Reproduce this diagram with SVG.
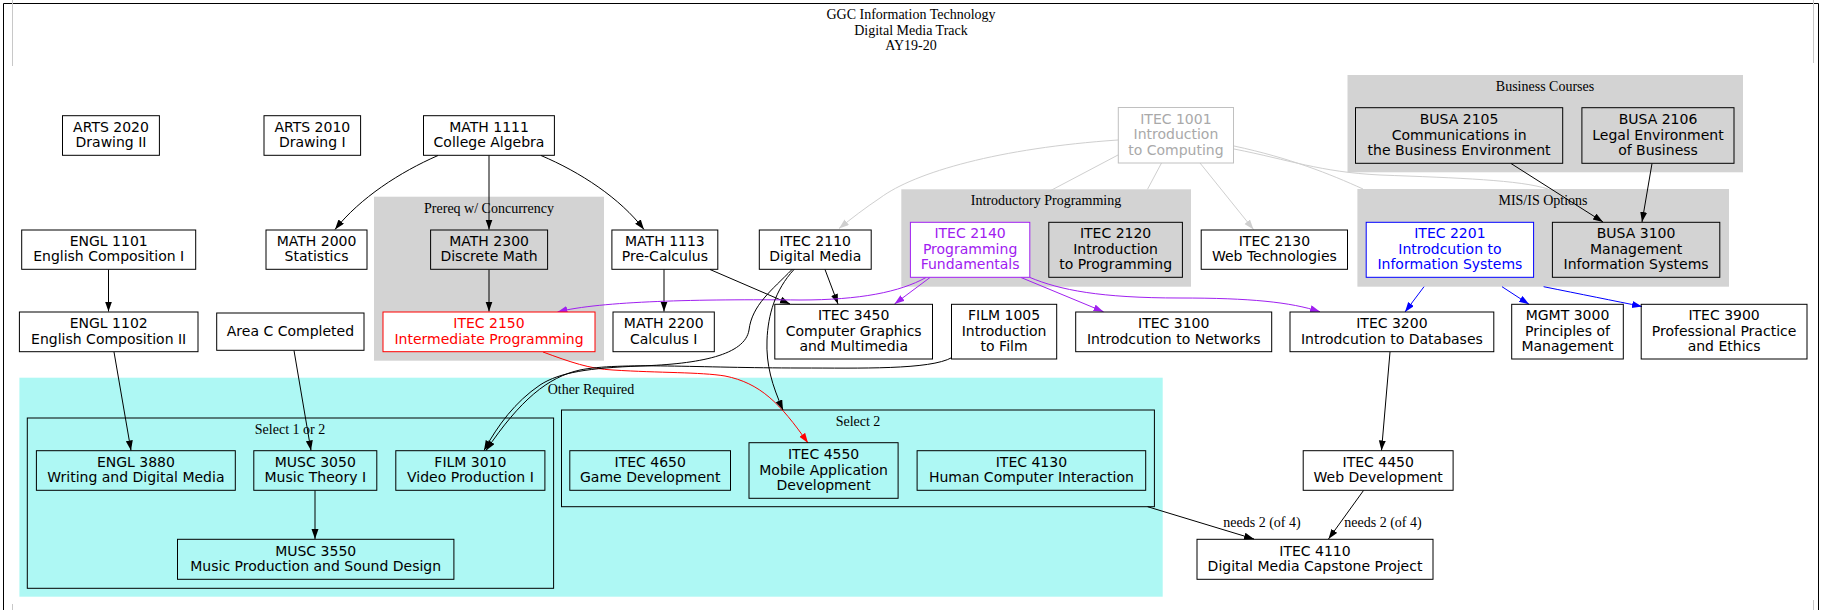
<svg xmlns="http://www.w3.org/2000/svg" width="1825" height="610" viewBox="0 0 1825 610">
<style>
.n rect{fill:none;stroke:#000;stroke-width:1}
.t{font-family:"DejaVu Sans",Verdana,sans-serif;font-size:14px;text-anchor:middle;fill:#000}
.c{font-family:"Liberation Serif","Times New Roman",serif;font-size:14px;text-anchor:middle;fill:#000}
.e path{fill:none;stroke:#000;stroke-width:1}
.e .g{stroke:#cfcfcf}
.e .p{stroke:#a020f0}
.e .b{stroke:#0000ff}
.e .r{stroke:#ff0000}
</style>
<defs>
<marker id="ak" markerUnits="userSpaceOnUse" markerWidth="10" markerHeight="8" refX="10" refY="3.5" orient="auto"><path d="M0,0 L10,3.5 L0,7 z" fill="#000"/></marker>
<marker id="ag" markerUnits="userSpaceOnUse" markerWidth="10" markerHeight="8" refX="10" refY="3.5" orient="auto"><path d="M0,0 L10,3.5 L0,7 z" fill="#cfcfcf"/></marker>
<marker id="ap" markerUnits="userSpaceOnUse" markerWidth="10" markerHeight="8" refX="10" refY="3.5" orient="auto"><path d="M0,0 L10,3.5 L0,7 z" fill="#a020f0"/></marker>
<marker id="ab" markerUnits="userSpaceOnUse" markerWidth="10" markerHeight="8" refX="10" refY="3.5" orient="auto"><path d="M0,0 L10,3.5 L0,7 z" fill="#0000ff"/></marker>
<marker id="ar" markerUnits="userSpaceOnUse" markerWidth="10" markerHeight="8" refX="10" refY="3.5" orient="auto"><path d="M0,0 L10,3.5 L0,7 z" fill="#ff0000"/></marker>
</defs>
<rect x="0" y="0" width="1825" height="610" fill="#fff"/>
<g id="frame" fill="none">
<path d="M3.5,612 L3.5,3.5 L1818.5,3.5 L1818.5,612" stroke="#000"/>
<path d="M12.5,0 L12.5,66 M12.5,604 L12.5,610 M1813.5,0 L1813.5,63 M1813.5,600 L1813.5,610" stroke="#c8c8c8"/>
</g>
<g id="title" class="c">
<text x="911" y="19">GGC Information Technology</text>
<text x="911" y="34.5">Digital Media Track</text>
<text x="911" y="50">AY19-20</text>
</g>
<g id="clusters">
<g id="cl-business"><rect x="1347.5" y="75" width="395.5" height="97.3" fill="#d3d3d3"/><text class="c" x="1545" y="91">Business Courses</text></g>
<g id="cl-prereq"><rect x="374" y="196.7" width="230" height="164" fill="#d3d3d3"/><text class="c" x="489" y="213">Prereq w/ Concurrency</text></g>
<g id="cl-intro"><rect x="901.3" y="189.3" width="289.7" height="97.4" fill="#d3d3d3"/><text class="c" x="1046" y="205.3">Introductory Programming</text></g>
<g id="cl-mis"><rect x="1357.4" y="189" width="371.6" height="97.7" fill="#d3d3d3"/><text class="c" x="1543" y="205">MIS/IS Options</text></g>
<g id="cl-other"><rect x="19.4" y="377.7" width="1143.3" height="219" fill="#aef8f4"/><text class="c" x="591" y="393.7">Other Required</text></g>
<g id="cl-sel12"><rect x="27.3" y="418" width="526.3" height="170.3" fill="none" stroke="#000"/><text class="c" x="290" y="434">Select 1 or 2</text></g>
<g id="cl-sel2"><rect x="561.5" y="410" width="592.9" height="96.7" fill="none" stroke="#000"/><text class="c" x="858" y="426">Select 2</text></g>
</g>
<g id="edges" class="e">
<path class="g" d="M1118,140 C1000,148 915,172 880,198 C865,208 852,218 839,228.5" marker-end="url(#ag)"/>
<path class="g" d="M1118,155 L1039,196.7"/>
<path class="g" d="M1161.5,163 L1147.5,189.3"/>
<path class="g" d="M1200,163 L1253.5,229.5" marker-end="url(#ag)"/>
<path class="g" d="M1234,146 C1290,158 1330,174 1363,189"/>
<path class="g" d="M1234,149 C1290,160 1320,172 1380,175 C1460,178 1520,180 1548,189"/>
<path d="M438,155.5 C400,172 360,198 335,229.5" marker-end="url(#ak)"/>
<path d="M489,155.5 L489,229.5" marker-end="url(#ak)"/>
<path d="M541,155.5 C580,172 620,198 644,229.5" marker-end="url(#ak)"/>
<path d="M108.5,269.5 L108.5,311.5" marker-end="url(#ak)"/>
<path d="M489,269.5 L489,311.5" marker-end="url(#ak)"/>
<path d="M664,269.5 L664,311.5" marker-end="url(#ak)"/>
<path d="M710,269.5 L790,304" marker-end="url(#ak)"/>
<path d="M825,269.5 L838,304" marker-end="url(#ak)"/>
<path d="M1511,163.5 L1603,222" marker-end="url(#ak)"/>
<path d="M1652,163.5 L1642,222" marker-end="url(#ak)"/>
<path class="p" d="M926,277.5 C900,292 860,300 800,300 C700,299 600,301 557.5,312" marker-end="url(#ap)"/>
<path class="p" d="M930,277.5 L894.5,304" marker-end="url(#ap)"/>
<path class="p" d="M1021,277.5 L1103.5,311.7" marker-end="url(#ap)"/>
<path class="p" d="M1030,277.5 C1060,290 1100,298 1180,298 C1250,298 1290,302 1320,311.7" marker-end="url(#ap)"/>
<path class="b" d="M1424,286.7 L1405,312" marker-end="url(#ab)"/>
<path class="b" d="M1502,286.7 L1529,304.3" marker-end="url(#ab)"/>
<path class="b" d="M1543.6,286.7 C1580,294 1615,301 1642,306.5" marker-end="url(#ab)"/>
<path class="r" d="M543,352 C570,362 590,369 613,370 C660,373 700,372 725,376 C760,383 780,403 808,443" marker-end="url(#ar)"/>
<path d="M792,269.5 C772,290 752,305 749,330 C745,355 700,364 640,366 C590,368 560,372 540,385 C515,402 498,425 484,450.5" marker-end="url(#ak)"/>
<path d="M952,357.5 C930,370 860,368 800,368 C700,368 620,362 580,370 C548,377 520,400 486,450.5" marker-end="url(#ak)"/>
<path d="M794,269.5 C775,290 768,315 767,340 C766,365 772,385 783,410" marker-end="url(#ak)"/>
<path d="M114,352 L131,450.5" marker-end="url(#ak)"/>
<path d="M294,350.5 L311,450.5" marker-end="url(#ak)"/>
<path d="M315,490.5 L315,539" marker-end="url(#ak)"/>
<path d="M1390,352 L1381.5,450.5" marker-end="url(#ak)"/>
<path d="M1363.5,490.5 L1328.5,539" marker-end="url(#ak)"/>
<path d="M1147.6,506.7 L1254,539" marker-end="url(#ak)"/>
<text class="c" x="1262" y="527">needs 2 (of 4)</text>
<text class="c" x="1383" y="527">needs 2 (of 4)</text>
</g>
<g id="n-arts2020" class="n"><rect x="62.5" y="115.7" width="96.9" height="39.6"/><text class="t" x="111" y="131.7"><tspan x="111">ARTS 2020</tspan><tspan x="111" dy="15.5">Drawing II</tspan></text></g>
<g id="n-arts2010" class="n"><rect x="264" y="115.7" width="96.6" height="39.6"/><text class="t" x="312.3" y="131.7"><tspan x="312.3">ARTS 2010</tspan><tspan x="312.3" dy="15.5">Drawing I</tspan></text></g>
<g id="n-math1111" class="n"><rect x="423.5" y="115.7" width="130.9" height="39.6"/><text class="t" x="489" y="131.7"><tspan x="489">MATH 1111</tspan><tspan x="489" dy="15.5">College Algebra</tspan></text></g>
<g id="n-itec1001" class="n"><rect x="1118.3" y="107.5" width="115.2" height="55.5" fill="#fff" style="stroke:#c0c0c0;fill:#fff"/><text class="t" x="1175.9" y="123.7" style="fill:#a9a9a9"><tspan x="1175.9">ITEC 1001</tspan><tspan x="1175.9" dy="15.5">Introduction</tspan><tspan x="1175.9" dy="15.5">to Computing</tspan></text></g>
<g id="n-busa2105" class="n"><rect x="1355.5" y="107.7" width="207.2" height="55.6"/><text class="t" x="1459.1" y="124"><tspan x="1459.1">BUSA 2105</tspan><tspan x="1459.1" dy="15.5">Communications in</tspan><tspan x="1459.1" dy="15.5">the Business Environment</tspan></text></g>
<g id="n-busa2106" class="n"><rect x="1581.9" y="107.7" width="152.1" height="55.6"/><text class="t" x="1658" y="124"><tspan x="1658">BUSA 2106</tspan><tspan x="1658" dy="15.5">Legal Environment</tspan><tspan x="1658" dy="15.5">of Business</tspan></text></g>
<g id="n-engl1101" class="n"><rect x="21.7" y="230" width="174" height="39.3"/><text class="t" x="108.7" y="245.9"><tspan x="108.7">ENGL 1101</tspan><tspan x="108.7" dy="15.5">English Composition I</tspan></text></g>
<g id="n-math2000" class="n"><rect x="266" y="230" width="101" height="39.3"/><text class="t" x="316.5" y="245.9"><tspan x="316.5">MATH 2000</tspan><tspan x="316.5" dy="15.5">Statistics</tspan></text></g>
<g id="n-math2300" class="n"><rect x="430.6" y="230" width="117" height="39.3"/><text class="t" x="489.1" y="245.9"><tspan x="489.1">MATH 2300</tspan><tspan x="489.1" dy="15.5">Discrete Math</tspan></text></g>
<g id="n-math1113" class="n"><rect x="611.9" y="230" width="105.9" height="39.3"/><text class="t" x="664.9" y="245.9"><tspan x="664.9">MATH 1113</tspan><tspan x="664.9" dy="15.5">Pre-Calculus</tspan></text></g>
<g id="n-itec2110" class="n"><rect x="759.3" y="230" width="111.9" height="39.3"/><text class="t" x="815.3" y="245.9"><tspan x="815.3">ITEC 2110</tspan><tspan x="815.3" dy="15.5">Digital Media</tspan></text></g>
<g id="n-itec2140" class="n"><rect x="910.4" y="222.3" width="119.4" height="55" style="stroke:#a020f0;fill:#fff"/><text class="t" x="970.1" y="238.3" style="fill:#a020f0"><tspan x="970.1">ITEC 2140</tspan><tspan x="970.1" dy="15.5">Programming</tspan><tspan x="970.1" dy="15.5">Fundamentals</tspan></text></g>
<g id="n-itec2120" class="n"><rect x="1048.8" y="222.3" width="133.6" height="55"/><text class="t" x="1115.6" y="238.3"><tspan x="1115.6">ITEC 2120</tspan><tspan x="1115.6" dy="15.5">Introduction</tspan><tspan x="1115.6" dy="15.5">to Programming</tspan></text></g>
<g id="n-itec2130" class="n"><rect x="1201.2" y="230" width="146.3" height="39.3"/><text class="t" x="1274.4" y="245.9"><tspan x="1274.4">ITEC 2130</tspan><tspan x="1274.4" dy="15.5">Web Technologies</tspan></text></g>
<g id="n-itec2201" class="n"><rect x="1366.2" y="222.3" width="167.4" height="55" style="stroke:#0000ff;fill:#fff"/><text class="t" x="1449.9" y="238.3" style="fill:#0000ff"><tspan x="1449.9">ITEC 2201</tspan><tspan x="1449.9" dy="15.5">Introdcution to</tspan><tspan x="1449.9" dy="15.5">Information Systems</tspan></text></g>
<g id="n-busa3100" class="n"><rect x="1552.4" y="222.3" width="167.4" height="55"/><text class="t" x="1636.1" y="238.3"><tspan x="1636.1">BUSA 3100</tspan><tspan x="1636.1" dy="15.5">Management</tspan><tspan x="1636.1" dy="15.5">Information Systems</tspan></text></g>
<g id="n-engl1102" class="n"><rect x="19.4" y="312" width="178.6" height="39.7"/><text class="t" x="108.7" y="328"><tspan x="108.7">ENGL 1102</tspan><tspan x="108.7" dy="15.5">English Composition II</tspan></text></g>
<g id="n-areac" class="n"><rect x="216.7" y="313" width="147.3" height="37.3"/><text class="t" x="290.4" y="336.2">Area C Completed</text></g>
<g id="n-itec2150" class="n"><rect x="383" y="312" width="212" height="39.7" style="stroke:#ff0000;fill:#fff"/><text class="t" x="489" y="328" style="fill:#ff0000"><tspan x="489">ITEC 2150</tspan><tspan x="489" dy="15.5">Intermediate Programming</tspan></text></g>
<g id="n-math2200" class="n"><rect x="613" y="312" width="101.3" height="39.7"/><text class="t" x="663.7" y="328"><tspan x="663.7">MATH 2200</tspan><tspan x="663.7" dy="15.5">Calculus I</tspan></text></g>
<g id="n-itec3450" class="n"><rect x="774.8" y="304.3" width="157.7" height="54.7"/><text class="t" x="853.7" y="320.2"><tspan x="853.7">ITEC 3450</tspan><tspan x="853.7" dy="15.5">Computer Graphics</tspan><tspan x="853.7" dy="15.5">and Multimedia</tspan></text></g>
<g id="n-film1005" class="n"><rect x="951.5" y="304.3" width="105.2" height="54.7"/><text class="t" x="1004.1" y="320.2"><tspan x="1004.1">FILM 1005</tspan><tspan x="1004.1" dy="15.5">Introduction</tspan><tspan x="1004.1" dy="15.5">to Film</tspan></text></g>
<g id="n-itec3100" class="n"><rect x="1075.7" y="312" width="196" height="39.7"/><text class="t" x="1173.7" y="328"><tspan x="1173.7">ITEC 3100</tspan><tspan x="1173.7" dy="15.5">Introdcution to Networks</tspan></text></g>
<g id="n-itec3200" class="n"><rect x="1290" y="312" width="203.8" height="39.7"/><text class="t" x="1391.9" y="328"><tspan x="1391.9">ITEC 3200</tspan><tspan x="1391.9" dy="15.5">Introdcution to Databases</tspan></text></g>
<g id="n-mgmt3000" class="n"><rect x="1511.7" y="304.3" width="111.6" height="54.7"/><text class="t" x="1567.5" y="320.2"><tspan x="1567.5">MGMT 3000</tspan><tspan x="1567.5" dy="15.5">Principles of</tspan><tspan x="1567.5" dy="15.5">Management</tspan></text></g>
<g id="n-itec3900" class="n"><rect x="1641.2" y="304.3" width="165.8" height="54.7"/><text class="t" x="1724.1" y="320.2"><tspan x="1724.1">ITEC 3900</tspan><tspan x="1724.1" dy="15.5">Professional Practice</tspan><tspan x="1724.1" dy="15.5">and Ethics</tspan></text></g>
<g id="n-engl3880" class="n"><rect x="36.4" y="450.7" width="198.9" height="39.6"/><text class="t" x="135.9" y="466.7"><tspan x="135.9">ENGL 3880</tspan><tspan x="135.9" dy="15.5">Writing and Digital Media</tspan></text></g>
<g id="n-musc3050" class="n"><rect x="253.8" y="450.7" width="123" height="39.6"/><text class="t" x="315.3" y="466.7"><tspan x="315.3">MUSC 3050</tspan><tspan x="315.3" dy="15.5">Music Theory I</tspan></text></g>
<g id="n-film3010" class="n"><rect x="395.8" y="450.7" width="149.1" height="39.6"/><text class="t" x="470.4" y="466.7"><tspan x="470.4">FILM 3010</tspan><tspan x="470.4" dy="15.5">Video Production I</tspan></text></g>
<g id="n-musc3550" class="n"><rect x="177.5" y="539.3" width="276.4" height="40"/><text class="t" x="315.7" y="555.5"><tspan x="315.7">MUSC 3550</tspan><tspan x="315.7" dy="15.5">Music Production and Sound Design</tspan></text></g>
<g id="n-itec4650" class="n"><rect x="569.8" y="450.7" width="160.7" height="39.6"/><text class="t" x="650.2" y="466.7"><tspan x="650.2">ITEC 4650</tspan><tspan x="650.2" dy="15.5">Game Development</tspan></text></g>
<g id="n-itec4550" class="n"><rect x="749" y="442.7" width="149.1" height="55.6"/><text class="t" x="823.6" y="459"><tspan x="823.6">ITEC 4550</tspan><tspan x="823.6" dy="15.5">Mobile Application</tspan><tspan x="823.6" dy="15.5">Development</tspan></text></g>
<g id="n-itec4130" class="n"><rect x="917.1" y="450.7" width="228.6" height="39.6"/><text class="t" x="1031.4" y="466.7"><tspan x="1031.4">ITEC 4130</tspan><tspan x="1031.4" dy="15.5">Human Computer Interaction</tspan></text></g>
<g id="n-itec4450" class="n"><rect x="1303.2" y="450.7" width="149.9" height="39.6"/><text class="t" x="1378.2" y="466.7"><tspan x="1378.2">ITEC 4450</tspan><tspan x="1378.2" dy="15.5">Web Development</tspan></text></g>
<g id="n-itec4110" class="n"><rect x="1197" y="539.3" width="236" height="40"/><text class="t" x="1315" y="555.5"><tspan x="1315">ITEC 4110</tspan><tspan x="1315" dy="15.5">Digital Media Capstone Project</tspan></text></g>
</svg>
